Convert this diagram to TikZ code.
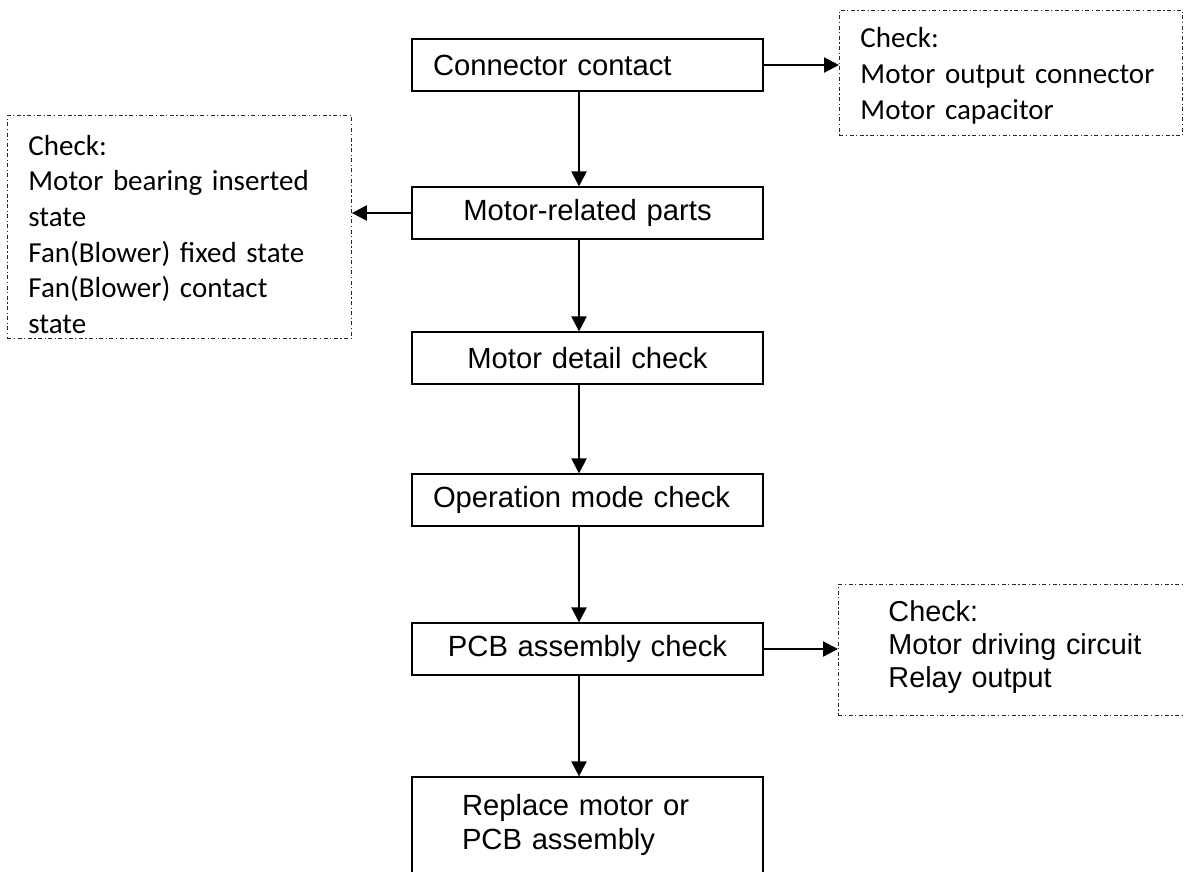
\documentclass[tikz,border=0pt]{standalone}
\usepackage{fontspec}
\setmainfont{Liberation Sans}
\newfontfamily\calibrifont{Carlito}
\usetikzlibrary{positioning,arrows.meta}
\tikzset{
  stepbox/.style ={draw=black,line width=1.2pt,minimum width=351pt,minimum height=52pt,inner xsep=0pt,text width=351pt,align=center,font=\fontsize{29.2}{34}\selectfont},
  leftbox/.style ={stepbox,inner xsep=21pt,text width=309pt,align=left},
  note/.style    ={draw=black!85,line width=0.9pt,dash pattern=on 4pt off 2.5pt on 1.2pt off 2.5pt,anchor=north west,align=left,inner xsep=21pt,font=\calibrifont\fontsize{29}{35.6}\selectfont},
  arr/.style     ={-{Triangle[length=15pt,width=15pt]},line width=2.2pt,draw=black},
}
\begin{document}
\begin{tikzpicture}[x=1pt,y=-1pt]
  \useasboundingbox (0,0) rectangle (1184,871);
  % main chain
  \node[leftbox] (conn) at (587.5,65) {Connector contact};
  \node[stepbox, below=94.8pt of conn] (motor) {Motor-related parts};
  \node[stepbox, below=91.8pt of motor] (detail) {Motor detail check};
  \node[leftbox, below=88.8pt of detail] (opmode) {Operation mode check};
  \node[stepbox, below=95.8pt of opmode] (pcb) {PCB assembly check};
  \node[leftbox, below=100.8pt of pcb, inner xsep=50pt, text width=251pt, minimum height=110pt] (replace) {Replace motor or\\PCB assembly\rule[-21pt]{0pt}{21pt}};
  % check notes
  \node[note, text width=301pt, minimum height=125pt, font=\calibrifont\fontsize{29}{36.3}\selectfont] (chkconn) at (839,10) {\rule{0pt}{26pt}Check:\\Motor output connector\\Motor capacitor};
  \node[note, text width=302pt, minimum height=223pt] (chkmotor) at (7,115) {\rule{0pt}{35pt}Check:\\Motor bearing inserted\\state\\Fan(Blower) fixed state\\Fan(Blower) contact\\state};
  \node[note, inner xsep=50pt, text width=270pt, minimum height=131pt, font=\fontsize{28.8}{32.7}\selectfont] (chkpcb) at (838,584) {Check:\\Motor driving circuit\\Relay output\rule[-11.5pt]{0pt}{11.5pt}};

  \draw[arr] ([xshift=-8.5pt]conn.south) -- ([xshift=-8.5pt]motor.north);
  \draw[arr] ([xshift=-8.5pt]motor.south) -- ([xshift=-8.5pt]detail.north);
  \draw[arr] ([xshift=-8.5pt]detail.south) -- ([xshift=-8.5pt]opmode.north);
  \draw[arr] ([xshift=-8.5pt]opmode.south) -- ([xshift=-8.5pt]pcb.north);
  \draw[arr] ([xshift=-8.5pt]pcb.south) -- ([xshift=-8.5pt]replace.north);
  \draw[arr] (conn.east) -- (conn.east -| chkconn.west);
  \draw[arr] (motor.west) -- (motor.west -| chkmotor.east);
  \draw[arr] (pcb.east) -- (pcb.east -| chkpcb.west);
\end{tikzpicture}
\end{document}
